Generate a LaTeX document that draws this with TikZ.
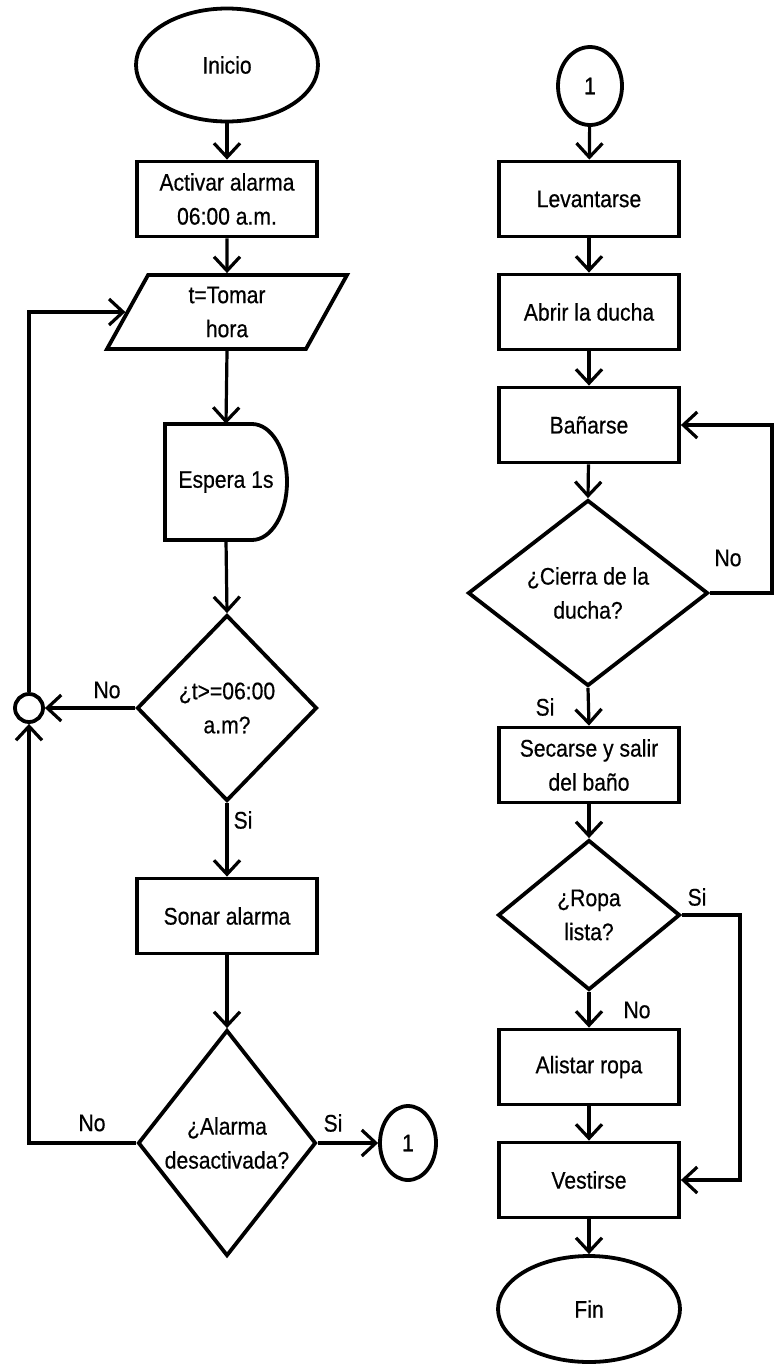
\documentclass[tikz,border=0pt]{standalone}
\usepackage{fontspec}
\setmainfont{Liberation Sans}[FakeStretch=0.88,FakeBold=0.5]
\usetikzlibrary{shapes.geometric,arrows.meta}
\begin{document}
\begin{tikzpicture}[x=1pt,y=-1pt,
  font=\fontsize{24}{34}\selectfont,
  shp/.style={draw, line width=3.8pt, inner sep=0pt, align=center},
  box/.style={shp, rectangle, minimum width=180pt, minimum height=75pt},
  ell/.style={shp, ellipse},
  dec/.style={shp, diamond},
  arr/.style={line width=3.2pt, -{Straight Barb[length=14pt,width=26pt]}},
  lbl/.style={inner sep=0pt}]
\fill[white] (0,0) rectangle (775,1368);
\useasboundingbox (0,0) rectangle (775,1368);

% ---------- left column ----------
\node[ell, minimum width=182pt, minimum height=113pt] (inicio) at (227,65) {Inicio};
\node[box] (activar) at (227,199) {Activar alarma\\06:00 a.m.};
\node[shp, trapezium, trapezium left angle=51, trapezium right angle=129,
      trapezium stretches body, minimum width=240pt, minimum height=74pt] (tomar) at (227,312) {t=Tomar\\hora};
\draw[line width=3.8pt] (165,424) -- (252,424) arc[start angle=-90, end angle=90, x radius=35, y radius=58] -- (165,540) -- cycle;
\node[lbl, minimum width=122pt, minimum height=116pt] (espera) at (226,482) {Espera 1s};
\node[dec, minimum width=180pt, minimum height=186pt] (d1) at (227,708) {¿t>=06:00\\a.m?};
\node[shp, circle, minimum size=28pt] (j) at (29,708) {};
\node[box] (sonar) at (227,916) {Sonar alarma};
\node[dec, minimum width=178pt, minimum height=226pt] (d2) at (227,1143) {¿Alarma\\desactivada?};
\node[shp, ellipse, minimum width=56pt, minimum height=74pt] (c1) at (408,1143) {1};

\node[lbl] (no1) at (107,690) {No};
\node[lbl] (si1) at (243,820) {Si};
\node[lbl] (no2) at (92,1123) {No};
\node[lbl] (si2) at (333,1123) {Si};

\draw[arr] (inicio) -- (activar);
\draw[arr] (activar) -- (tomar.north);
\draw[arr] (tomar.south) -- (espera.north);
\draw[arr] (espera.south) -- (d1.north);
\draw[arr] (d1.west) -- (j.east);
\draw[arr] (j.north) |- (tomar.west);
\draw[arr] (d1.south) -- (sonar.north);
\draw[arr] (sonar.south) -- (d2.north);
\draw[arr] (d2.west) -| (j.south);
\draw[arr] (d2.east) -- (c1.west);

% ---------- right column ----------
\node[shp, ellipse, minimum width=64pt, minimum height=78pt] (c2) at (590,86) {1};
\node[box] (lev) at (589,199) {Levantarse};
\node[box] (abrir) at (589,312) {Abrir la ducha};
\node[box] (ban) at (589,425) {Bañarse};
\node[dec, minimum width=240pt, minimum height=186pt] (d3) at (588,593) {¿Cierra de la\\ducha?};
\node[box] (sec) at (589,765) {Secarse y salir\\del baño};
\node[dec, minimum width=182pt, minimum height=150pt] (d4) at (589,915) {¿Ropa\\lista?};
\node[box] (alis) at (589,1067) {Alistar ropa};
\node[box] (vest) at (589,1180) {Vestirse};
\node[ell, minimum width=182pt, minimum height=106pt] (fin) at (589,1309) {Fin};

\node[lbl] (no3) at (728,558) {No};
\node[lbl] (si3) at (545,707) {Si};
\node[lbl] (si4) at (697,897) {Si};
\node[lbl] (no4) at (637,1010) {No};

\coordinate (r1) at (772,593);
\coordinate (r2) at (740,915);

\draw[arr] (c2) -- (lev);
\draw[arr] (lev) -- (abrir);
\draw[arr] (abrir) -- (ban);
\draw[arr] (ban) -- (d3.north);
\draw[arr] (d3.east) -- (r1) |- (ban.east);
\draw[arr] (d3.south) -- (sec.north);
\draw[arr] (sec) -- (d4.north);
\draw[arr] (d4.east) -- (r2) |- (vest.east);
\draw[arr] (d4.south) -- (alis.north);
\draw[arr] (alis) -- (vest);
\draw[arr] (vest) -- (fin);
\end{tikzpicture}
\end{document}
